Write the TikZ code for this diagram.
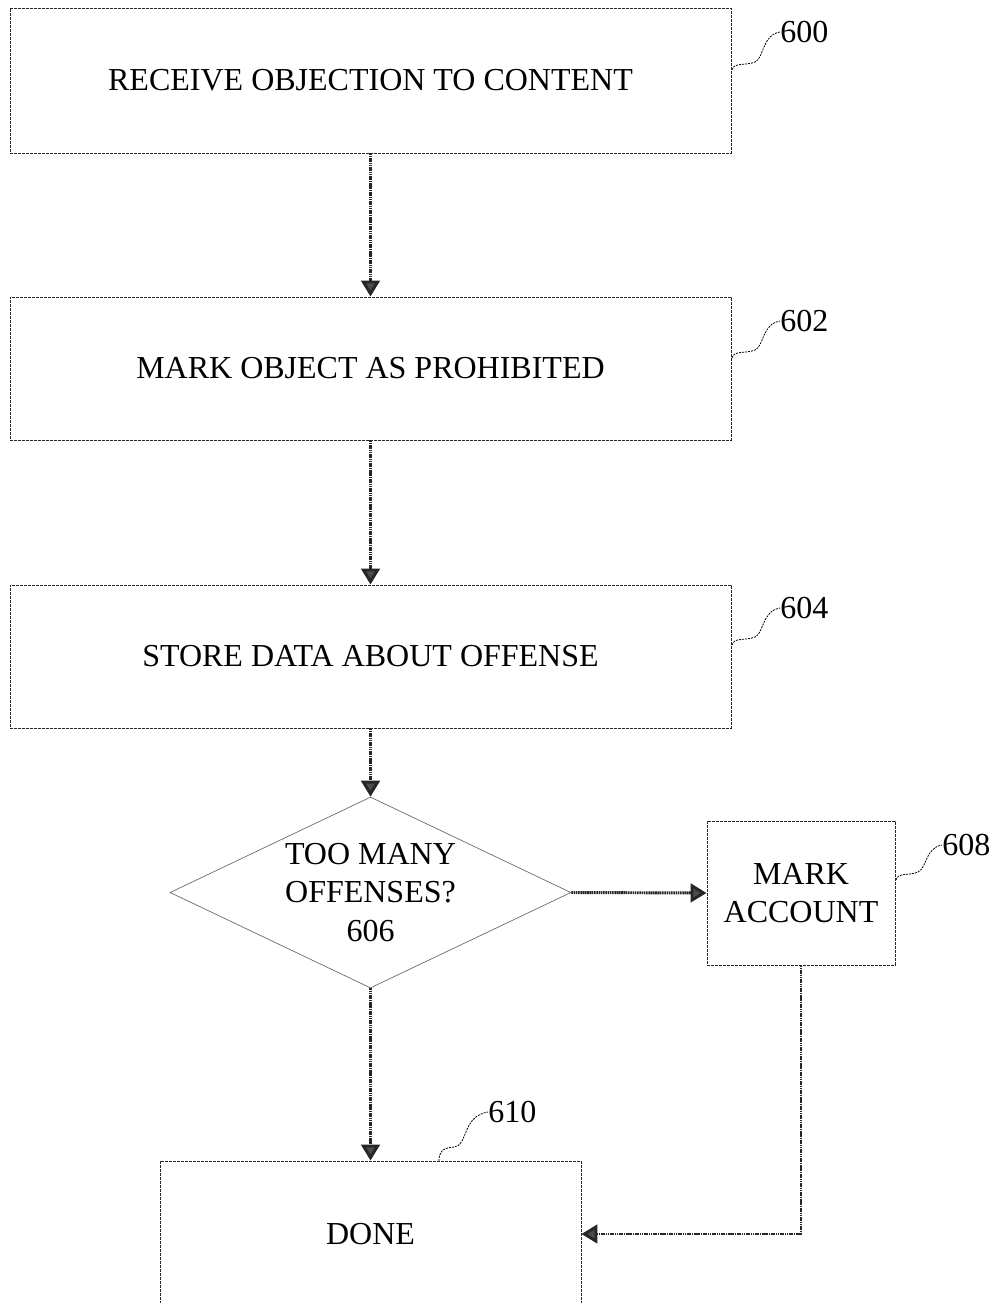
\documentclass[tikz,border=0pt]{standalone}
\usepackage{fontspec}
\setmainfont{Liberation Serif}
\usetikzlibrary{arrows.meta,shapes.geometric}
\tikzset{
  stepbox/.style={draw=black!85, line width=0.7pt, dash pattern=on 2pt off 1pt,
    inner sep=0pt, align=center, font=\fontsize{24}{29}\selectfont},
  decision/.style={draw=black!60, line width=0.5pt, shape=diamond, inner sep=0pt},
  flow/.style={draw=black!85, line width=2.2pt, dash pattern=on 1.2pt off 0.5pt,
    -{Triangle[width=14pt,length=12pt,fill=black!70]}},
  refline/.style={draw=black, line width=0.6pt, dash pattern=on 1.5pt off 0.8pt},
  reflabel/.style={font=\fontsize{24}{29}\selectfont, inner sep=0pt, anchor=west},
  plaintext/.style={font=\fontsize{24}{29}\selectfont, align=center, inner sep=0pt}
}
\begin{document}
\begin{tikzpicture}[x=0.75pt,y=-0.75pt]
\useasboundingbox (0,0) rectangle (995,1303);
\clip (0,0) rectangle (995,1303);

% process boxes
\node[stepbox, minimum width=540.75pt, minimum height=108.75pt] (s600) at (370.5,80.5) {RECEIVE OBJECTION TO CONTENT};
\node[stepbox, minimum width=540.75pt, minimum height=107.25pt] (s602) at (370.5,368.5) {MARK OBJECT AS PROHIBITED};
\node[stepbox, minimum width=540.75pt, minimum height=107.25pt] (s604) at (370.5,656.5) {STORE DATA ABOUT OFFENSE};

% decision
\node[decision, minimum width=300.75pt, minimum height=143.25pt] (d606) at (370.5,892.5) {};
\node[plaintext] (d606text) at (d606) {TOO MANY\\OFFENSES?\\606};

% side box and final box
\node[stepbox, minimum width=141pt, minimum height=108pt] (s608) at (801,893) {MARK\\ACCOUNT};
\node[stepbox, minimum width=315.75pt, minimum height=109.5pt] (s610) at (370.5,1234) {DONE};

% connectors
\draw[flow] (s600.south) -- (s602.north);
\draw[flow] (s602.south) -- (s604.north);
\draw[flow] (s604.south) -- (d606.north);
\draw[flow] (d606.east) -- (s608.west);
\draw[flow] (d606.south) -- (s610.north);
\draw[flow] (s608.south) |- (s610.east);

% reference numerals
\node[reflabel] (n600) at (780,32) {600};
\node[reflabel] (n602) at (780,321) {602};
\node[reflabel] (n604) at (780,608) {604};
\node[reflabel] (n608) at (942,845) {608};
\node[reflabel] (n610) at (488,1112) {610};

\coordinate (c600) at (732,70);
\coordinate (c602) at (732,358);
\coordinate (c604) at (732,645);
\coordinate (c608) at (896,880);
\coordinate (c610) at (439,1161);

\draw[refline] (c600) .. controls (734,62) and (745,66) .. (755,62) .. controls (764,58) and (762,35) .. (n600.west);
\draw[refline] (c602) .. controls (734,350) and (745,354) .. (755,350) .. controls (764,346) and (762,324) .. (n602.west);
\draw[refline] (c604) .. controls (734,637) and (745,641) .. (755,637) .. controls (764,633) and (762,611) .. (n604.west);
\draw[refline] (c608) .. controls (898,872) and (909,876) .. (918,872) .. controls (927,868) and (925,848) .. (n608.west);
\draw[refline] (c610) .. controls (439,1152) and (442,1148) .. (454,1147) .. controls (468,1146) and (462,1116) .. (n610.west);
\end{tikzpicture}
\end{document}
